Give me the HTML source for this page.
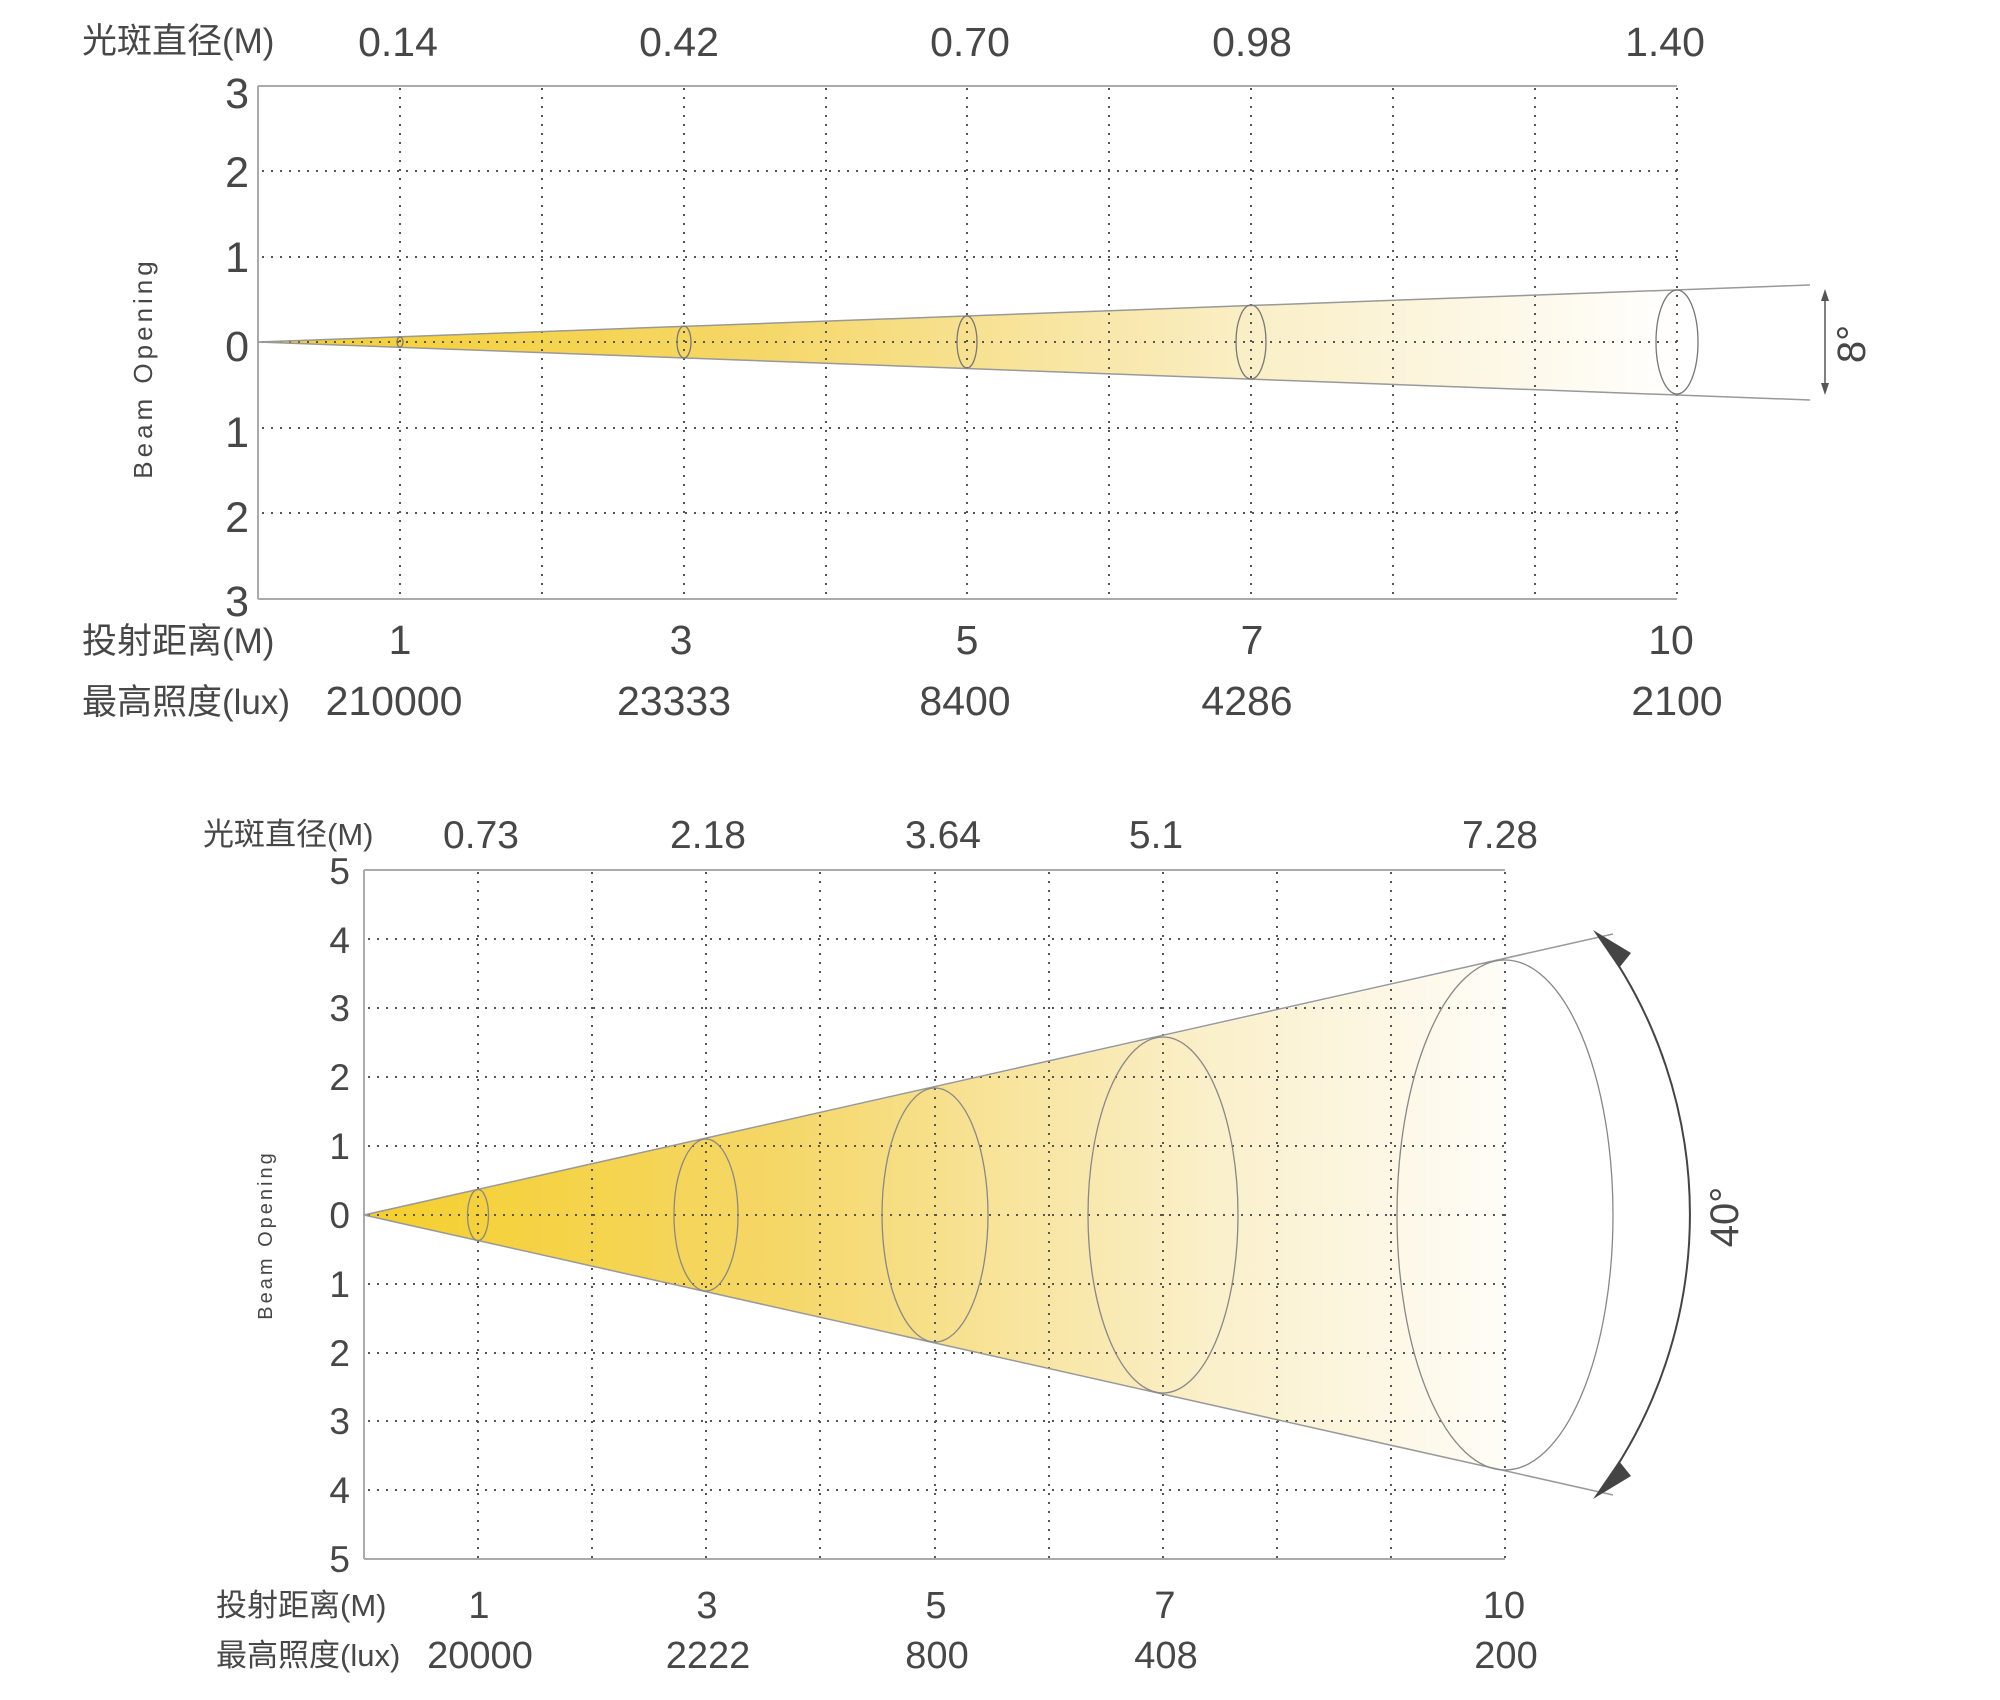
<!DOCTYPE html>
<html><head><meta charset="utf-8"><style>
html,body{margin:0;padding:0;background:#fff;}
svg{display:block;}
text{font-family:"Liberation Sans","Noto Sans CJK SC",sans-serif;fill:#474747;}
</style></head><body>
<svg width="2000" height="1700" viewBox="0 0 2000 1700" xmlns="http://www.w3.org/2000/svg">
<defs>
<linearGradient id="g1" gradientUnits="userSpaceOnUse" x1="258" y1="0" x2="1690" y2="0">
<stop offset="0" stop-color="#f5cf2c"/><stop offset="0.35" stop-color="#f5d768"/><stop offset="0.7" stop-color="#faefc8"/><stop offset="1" stop-color="#ffffff"/></linearGradient>
<linearGradient id="g2" gradientUnits="userSpaceOnUse" x1="364" y1="0" x2="1560" y2="0">
<stop offset="0" stop-color="#f5cf2c"/><stop offset="0.35" stop-color="#f5d768"/><stop offset="0.7" stop-color="#faefc8"/><stop offset="1" stop-color="#ffffff"/></linearGradient>
</defs>

<!-- ============ CHART 1 ============ -->
<polygon points="258,342 1677,289.5 1677,394.5" fill="url(#g1)"/>
<g stroke="#555" stroke-width="2" stroke-dasharray="2 7" fill="none">
<line x1="400" y1="88" x2="400" y2="599"/><line x1="542" y1="88" x2="542" y2="599"/>
<line x1="684" y1="88" x2="684" y2="599"/><line x1="826" y1="88" x2="826" y2="599"/>
<line x1="967" y1="88" x2="967" y2="599"/><line x1="1109" y1="88" x2="1109" y2="599"/>
<line x1="1251" y1="88" x2="1251" y2="599"/><line x1="1393" y1="88" x2="1393" y2="599"/>
<line x1="1535" y1="88" x2="1535" y2="599"/><line x1="1677" y1="88" x2="1677" y2="599"/>
<line x1="262" y1="171" x2="1677" y2="171"/><line x1="262" y1="257" x2="1677" y2="257"/>
<line x1="262" y1="342" x2="1677" y2="342"/><line x1="262" y1="428" x2="1677" y2="428"/>
<line x1="262" y1="513" x2="1677" y2="513"/>
</g>
<g stroke="#aaa" stroke-width="2" fill="none">
<line x1="258" y1="86" x2="1677" y2="86"/><line x1="258" y1="86" x2="258" y2="599"/><line x1="258" y1="599" x2="1677" y2="599"/>
</g>
<g stroke="#999" stroke-width="1.5" fill="none">
<line x1="258" y1="342" x2="1810" y2="285"/><line x1="258" y1="342" x2="1810" y2="400"/>
</g>
<g stroke="#777" stroke-width="1.3" fill="none">
<ellipse cx="400" cy="342" rx="3" ry="5"/>
<ellipse cx="684" cy="342" rx="7" ry="16"/>
<ellipse cx="967" cy="342" rx="10" ry="26"/>
<ellipse cx="1251" cy="342" rx="15" ry="37"/>
<ellipse cx="1677" cy="342" rx="21" ry="52"/>
</g>
<line x1="1825" y1="296" x2="1825" y2="388" stroke="#555" stroke-width="1.5"/>
<polygon points="1825,289 1821,301 1829,301" fill="#555"/>
<polygon points="1825,395 1821,383 1829,383" fill="#555"/>
<text transform="translate(1865,344) rotate(-90)" font-size="40" text-anchor="middle">8°</text>

<text x="82" y="53" font-size="35">光斑直径(M)</text>
<g font-size="41" text-anchor="middle">
<text x="398" y="56">0.14</text><text x="679" y="56">0.42</text><text x="970" y="56">0.70</text><text x="1252" y="56">0.98</text><text x="1665" y="56">1.40</text>
</g>
<g font-size="43" text-anchor="end">
<text x="249" y="108">3</text><text x="249" y="187">2</text><text x="249" y="272">1</text><text x="249" y="361">0</text>
<text x="249" y="447">1</text><text x="249" y="532">2</text><text x="249" y="616">3</text>
</g>
<text transform="translate(152,368) rotate(-90)" font-size="26" letter-spacing="4" text-anchor="middle" fill="#555">Beam Opening</text>
<text x="82" y="653" font-size="35">投射距离(M)</text>
<text x="82" y="714" font-size="35">最高照度(lux)</text>
<g font-size="41" text-anchor="middle">
<text x="400" y="654">1</text><text x="681" y="654">3</text><text x="967" y="654">5</text><text x="1252" y="654">7</text><text x="1671" y="654">10</text>
<text x="394" y="715">210000</text><text x="674" y="715">23333</text><text x="965" y="715">8400</text><text x="1247" y="715">4286</text><text x="1677" y="715">2100</text>
</g>

<!-- ============ CHART 2 ============ -->
<polygon points="364,1215 1505,960 1505,1470" fill="url(#g2)"/>
<g stroke="#555" stroke-width="2" stroke-dasharray="2 7" fill="none">
<line x1="478" y1="872" x2="478" y2="1559"/><line x1="592" y1="872" x2="592" y2="1559"/>
<line x1="706" y1="872" x2="706" y2="1559"/><line x1="820" y1="872" x2="820" y2="1559"/>
<line x1="935" y1="872" x2="935" y2="1559"/><line x1="1049" y1="872" x2="1049" y2="1559"/>
<line x1="1163" y1="872" x2="1163" y2="1559"/><line x1="1277" y1="872" x2="1277" y2="1559"/>
<line x1="1391" y1="872" x2="1391" y2="1559"/><line x1="1505" y1="872" x2="1505" y2="1559"/>
<line x1="368" y1="939" x2="1505" y2="939"/><line x1="368" y1="1008" x2="1505" y2="1008"/>
<line x1="368" y1="1077" x2="1505" y2="1077"/><line x1="368" y1="1146" x2="1505" y2="1146"/>
<line x1="368" y1="1215" x2="1505" y2="1215"/><line x1="368" y1="1284" x2="1505" y2="1284"/>
<line x1="368" y1="1353" x2="1505" y2="1353"/><line x1="368" y1="1421" x2="1505" y2="1421"/>
<line x1="368" y1="1490" x2="1505" y2="1490"/>
</g>
<g stroke="#aaa" stroke-width="2" fill="none">
<line x1="364" y1="870" x2="1505" y2="870"/><line x1="364" y1="870" x2="364" y2="1559"/><line x1="364" y1="1559" x2="1505" y2="1559"/>
</g>
<g stroke="#999" stroke-width="1.5" fill="none">
<line x1="364" y1="1215" x2="1613" y2="934"/><line x1="364" y1="1215" x2="1613" y2="1495"/>
</g>
<g stroke="#888" stroke-width="1.3" fill="none">
<ellipse cx="478" cy="1215" rx="10.5" ry="25.5"/>
<ellipse cx="706" cy="1215" rx="32" ry="76"/>
<ellipse cx="935" cy="1215" rx="53" ry="127"/>
<ellipse cx="1163" cy="1215" rx="75" ry="178"/>
<ellipse cx="1505" cy="1215" rx="108" ry="255"/>
</g>
<path d="M1600,938 A470,470 0 0 1 1600,1491" stroke="#444" stroke-width="2" fill="none"/>
<polygon points="1593,930 1631,953 1619,968" fill="#444"/>
<polygon points="1593,1499 1631,1476 1619,1461" fill="#444"/>
<text transform="translate(1738,1217) rotate(-90)" font-size="40" text-anchor="middle">40°</text>

<text x="203" y="845" font-size="31">光斑直径(M)</text>
<g font-size="39" text-anchor="middle">
<text x="481" y="848">0.73</text><text x="708" y="848">2.18</text><text x="943" y="848">3.64</text><text x="1156" y="848">5.1</text><text x="1500" y="848">7.28</text>
</g>
<g font-size="37" text-anchor="end">
<text x="350" y="884">5</text><text x="350" y="953">4</text><text x="350" y="1021">3</text><text x="350" y="1090">2</text>
<text x="350" y="1159">1</text><text x="350" y="1228">0</text><text x="350" y="1297">1</text><text x="350" y="1366">2</text>
<text x="350" y="1434">3</text><text x="350" y="1503">4</text><text x="350" y="1572">5</text>
</g>
<text transform="translate(272,1235) rotate(-90)" font-size="20" letter-spacing="3" text-anchor="middle" fill="#555">Beam Opening</text>
<text x="216" y="1616" font-size="31">投射距离(M)</text>
<text x="216" y="1666" font-size="31">最高照度(lux)</text>
<g font-size="38" text-anchor="middle">
<text x="479" y="1618">1</text><text x="707" y="1618">3</text><text x="936" y="1618">5</text><text x="1165" y="1618">7</text><text x="1504" y="1618">10</text>
<text x="480" y="1668">20000</text><text x="708" y="1668">2222</text><text x="937" y="1668">800</text><text x="1166" y="1668">408</text><text x="1506" y="1668">200</text>
</g>
</svg>
</body></html>
